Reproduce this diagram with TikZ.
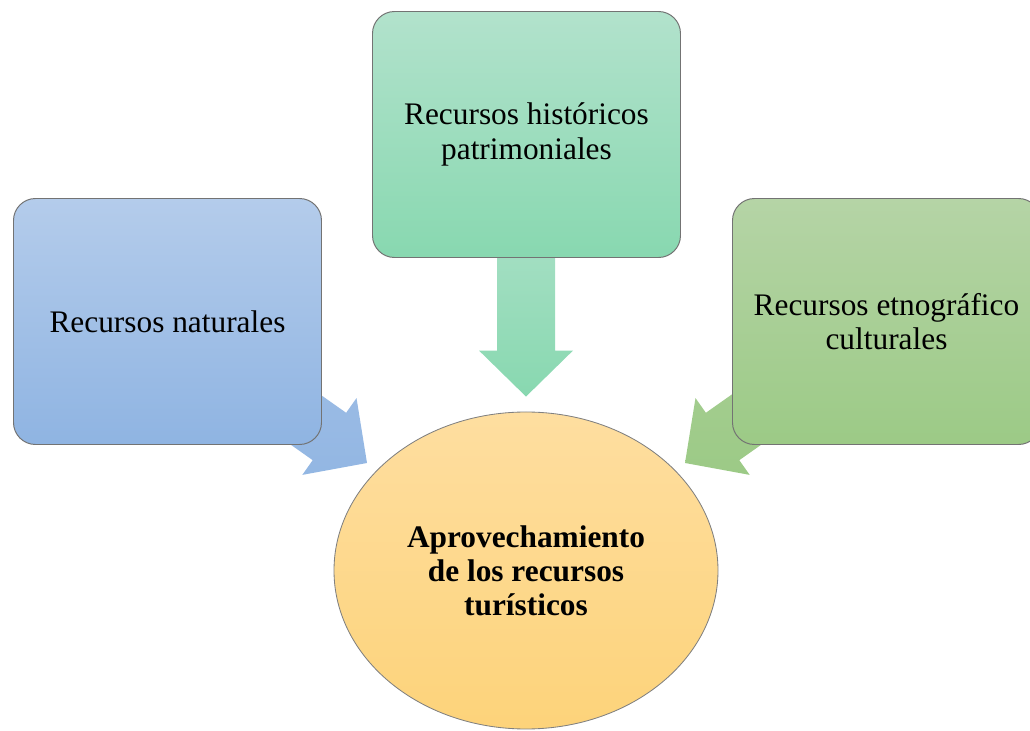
\documentclass[tikz,border=0pt]{standalone}
\usepackage{fontspec}
\setmainfont{Liberation Serif}
\usetikzlibrary{shapes.geometric,calc,backgrounds}

\definecolor{azulA}{RGB}{180,204,235}
\definecolor{azulB}{RGB}{143,180,226}
\definecolor{verdeA}{RGB}{178,226,204}
\definecolor{verdeB}{RGB}{136,216,176}
\definecolor{olivaA}{RGB}{181,212,166}
\definecolor{olivaB}{RGB}{156,202,134}
\definecolor{oroA}{RGB}{254,222,160}
\definecolor{oroB}{RGB}{253,211,122}

% block arrow: tip at #1, pointing at angle #2
\newcommand{\flecha}[4]{%
\shade[top color=#3,bottom color=#4,shift={(#1)},rotate=#2]
(0,0) -- (-1.15,1.175) -- (-1.15,0.725) -- (-4,0.725) -- (-4,-0.725)
-- (-1.15,-0.725) -- (-1.15,-1.175) -- cycle;}

\begin{document}
\begin{tikzpicture}[x=1cm,
y=1cm,
every node/.style={
align=center,
inner sep=0pt,
font=\fontsize{22.3}{24.5}\selectfont,
},
box/.style={
draw=black!55,
line width=0.7pt,
rounded corners=0.55cm,
anchor=south west,
minimum width=7.7cm,
minimum height=6.15cm,
}]
\clip (0,0) rectangle (25.75,18.275);

%resource boxes
\node[box,top color=azulA,bottom color=azulB](naturales)at(0.325,7.15){Recursos naturales};
\node[box,top color=verdeA,bottom color=verdeB](historicos)at(9.3,11.825){Recursos históricos\\patrimoniales};
\node[box,top color=olivaA,bottom color=olivaB](etnograficos)at(18.3,7.15){Recursos etnográfico\\culturales};

%central ellipse
\node[ellipse,draw=black!50,line width=0.6pt,top color=oroA,bottom color=oroB,
minimum width=9.6cm,minimum height=7.925cm,font=\fontsize{22.3}{24.2}\selectfont\bfseries]
(aprovechamiento)at(13.15,4.0125){Aprovechamiento\\de los recursos\\turísticos};

%arrows
\coordinate(tipT)at($(aprovechamiento.north)+(0,0.375)$);
\coordinate(tipL)at($(aprovechamiento.center)+(-3.975,2.6875)$);
\coordinate(tipR)at($(aprovechamiento.center)+(3.975,2.6875)$);
\begin{scope}[on background layer]
\flecha{tipT}{-90}{verdeA!70!verdeB}{verdeB}
\flecha{tipL}{-35.2}{azulA!40!azulB}{azulB!90!azulA}
\flecha{tipR}{215.2}{olivaA!40!olivaB}{olivaB}
\end{scope}
\end{tikzpicture}
\end{document}
